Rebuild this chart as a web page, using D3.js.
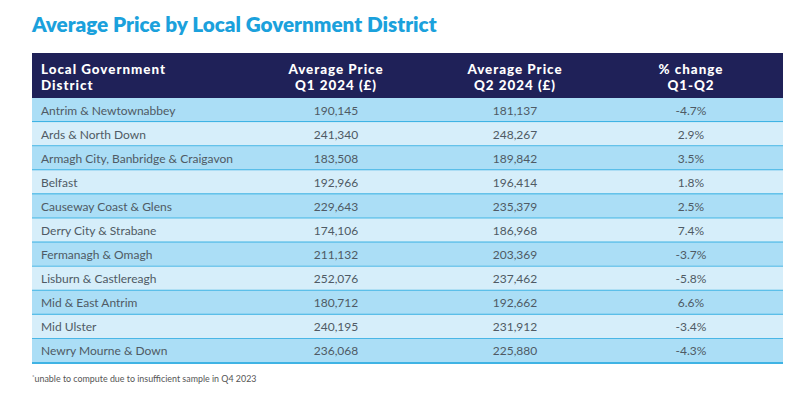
<!DOCTYPE html>
<html><head><meta charset="utf-8">
<script src="https://cdn.jsdelivr.net/npm/d3@7"></script>
<style>
html,body{margin:0;padding:0;background:#fff;}
svg{display:block;font-family:Lato,"Open Sans",sans-serif;}
</style></head>
<body>
<svg id="chart" width="800" height="404"></svg>
<script>
const title = "Average Price by Local Government District";
const headers = [["Local Government","District"],["Average Price","Q1 2024 (£)"],["Average Price","Q2 2024 (£)"],["% change","Q1-Q2"]];
const districts = ["Antrim & Newtownabbey","Ards & North Down","Armagh City, Banbridge & Craigavon","Belfast","Causeway Coast & Glens","Derry City & Strabane","Fermanagh & Omagh","Lisburn & Castlereagh","Mid & East Antrim","Mid Ulster","Newry Mourne & Down"];
const q1 = [190145,241340,183508,192966,229643,174106,211132,252076,180712,240195,236068];
const q2 = [181137,248267,189842,196414,235379,186968,203369,237462,192662,231912,225880];
const pct = [-4.7,2.9,3.5,1.8,2.5,7.4,-3.7,-5.8,6.6,-3.4,-4.3];
const footnote = "unable to compute due to insufficient sample in Q4 2023";

const svg = d3.select("#chart");
const left = 32, right = 783, headTop = 53, headBot = 98, tableBot = 363;
const colCenters = [null, 336, 515, 691];

function measure(str, size, weight, ls) {
  const t = svg.append("text").attr("font-size", size).attr("font-weight", weight)
    .attr("letter-spacing", ls || 0).text(str);
  const w = t.node().getComputedTextLength();
  t.remove();
  return w;
}
function fitSize(str, weight, target) {
  return 20 * target / measure(str, 20, weight);
}

svg.append("text").attr("x", left).attr("y", 32)
  .attr("fill", "#1ba1dc").attr("font-size", fitSize(title, 800, 405)).attr("font-weight", 800)
  .text(title);

// header
svg.append("rect").attr("x", left).attr("y", headTop).attr("width", right-left).attr("height", headBot-headTop).attr("fill", "#1f2158");
const hfs = 13.4;
const hw = measure(headers[0][0], hfs, 900, 0);
const hls = Math.max(0, (124 - hw) / (headers[0][0].length - 1));
headers.forEach((h, i) => {
  const x = i === 0 ? 41 : colCenters[i];
  h.forEach((line, j) => svg.append("text").attr("fill", "#fff").attr("font-size", hfs).attr("font-weight", 900)
    .attr("letter-spacing", hls)
    .attr("x", x).attr("y", 74 + j*16).attr("text-anchor", i === 0 ? "start" : "middle").text(line));
});

const y = d3.scaleBand().domain(d3.range(districts.length)).range([headBot, tableBot]);
const fmt = d3.format(",");
const pf = v => v.toFixed(1) + "%";
const rows = svg.selectAll("g.row").data(districts).join("g").attr("class","row")
  .attr("transform", (d,i) => `translate(0,${y(i)})`);
rows.append("rect").attr("x", left).attr("width", right-left).attr("height", y.bandwidth())
  .attr("fill", (d,i) => i % 2 === 0 ? "#abdef6" : "#d6eefa");
const ty = y.bandwidth()/2 + 4.5;
const cellColor = "#4f5a64";
const fs = fitSize(districts[2], 400, 192);
rows.append("text").attr("x", 41).attr("y", ty).attr("font-size", fs).attr("fill", cellColor).text(d => d);
rows.append("text").attr("x", colCenters[1]).attr("y", ty).attr("text-anchor","middle").attr("font-size", fs).attr("fill", cellColor).text((d,i) => fmt(q1[i]));
rows.append("text").attr("x", colCenters[2]).attr("y", ty).attr("text-anchor","middle").attr("font-size", fs).attr("fill", cellColor).text((d,i) => fmt(q2[i]));
rows.append("text").attr("x", colCenters[3]).attr("y", ty).attr("text-anchor","middle").attr("font-size", fs).attr("fill", cellColor).text((d,i) => pf(pct[i]));
// separators
rows.append("line").attr("x1", left).attr("x2", right).attr("y1", y.bandwidth()).attr("y2", y.bandwidth())
  .attr("stroke", "#3fb3e4").attr("stroke-width", 2);

const fn = svg.append("text").attr("x", left).attr("y", 382).attr("font-size", 8.9).attr("fill", "#555");
fn.append("tspan").attr("font-size", 6).attr("dy", -3).text("*");
fn.append("tspan").attr("dy", 3).text(footnote);
</script>
</body></html>
